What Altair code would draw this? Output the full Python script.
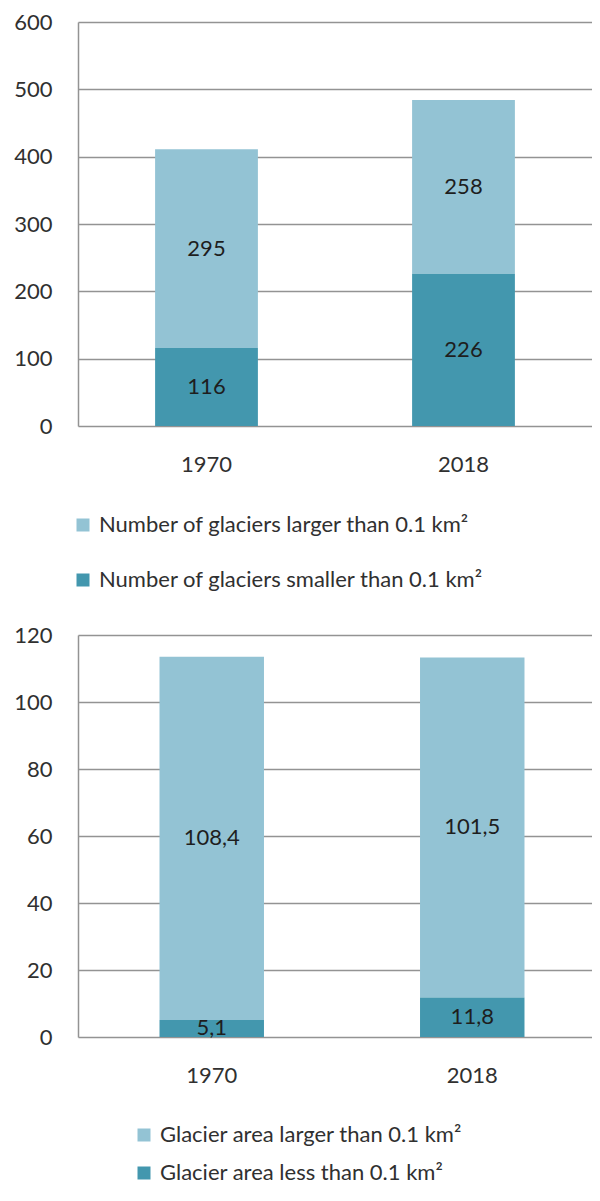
import altair as alt
import pandas as pd

years = ["1970", "2018"]
count_larger = [295, 258]
count_smaller = [116, 226]
area_larger = [108.4, 101.5]
area_smaller = [5.1, 11.8]

count_series = ["Number of glaciers larger than 0.1 km²",
                "Number of glaciers smaller than 0.1 km²"]
area_series = ["Glacier area larger than 0.1 km²",
               "Glacier area less than 0.1 km²"]

count_ticks = [0, 100, 200, 300, 400, 500, 600]
area_ticks = [0, 20, 40, 60, 80, 100, 120]

LIGHT = "#93C3D4"
DARK = "#4397AE"
GRID = "#939393"
TXT = "#303030"
FONT = "Lato"
FS = 22


def make_df(larger, smaller, names):
    rows = []
    for i, yr in enumerate(years):
        rows.append({"year": yr, "series": names[0], "v": larger[i], "ord": 1})
        rows.append({"year": yr, "series": names[1], "v": smaller[i], "ord": 0})
    return pd.DataFrame(rows)


def panel(df, names, ticks, width, height, lx, ly, rowpad, label_expr,
          pin, pout, shift):
    base = alt.Chart(df).transform_stack(
        stack="v", groupby=["year"], as_=["v0", "v1"],
        sort=[alt.SortField("ord", order="ascending")]
    ).transform_calculate(
        mid="(datum.v0 + datum.v1) / 2",
        lab=label_expr,
    )
    xs = alt.Scale(paddingInner=pin, paddingOuter=pout)
    x = alt.X("year:N", title=None, scale=xs,
              axis=alt.Axis(labelAngle=0, ticks=False, domain=False,
                            labelPadding=28, labelFontSize=FS,
                            labelOffset=shift,
                            labelFont=FONT, labelColor=TXT, grid=False))
    y = alt.Y("v1:Q", title=None,
              scale=alt.Scale(domain=[ticks[0], ticks[-1]], nice=False),
              axis=alt.Axis(values=ticks, ticks=False, domain=True,
                            domainColor=GRID, domainWidth=1.5,
                            grid=True, gridColor=GRID, gridWidth=1.5,
                            labelPadding=26, labelFontSize=FS,
                            labelFont=FONT, labelColor=TXT))
    bars = base.mark_bar(xOffset=shift).encode(
        x=x, y=y, y2="v0:Q",
        color=alt.Color("series:N",
                        scale=alt.Scale(domain=names, range=[LIGHT, DARK]),
                        legend=alt.Legend(title=None, orient="none",
                                          legendX=lx, legendY=ly,
                                          symbolType="square", symbolSize=169,
                                          symbolStrokeWidth=0, labelFontSize=FS,
                                          labelFont=FONT, labelColor=TXT,
                                          labelOffset=5, rowPadding=rowpad,
                                          padding=0, labelLimit=0)),
    )
    text = base.mark_text(font=FONT, fontSize=FS, color="#1E1E1E",
                          dx=shift).encode(
        x=alt.X("year:N", scale=xs), y=alt.Y("mid:Q"), text="lab:N")
    return (bars + text).properties(width=width, height=height)


top = panel(make_df(count_larger, count_smaller, count_series), count_series,
            count_ticks, 514, 404, -6, 492, 33, "format(datum.v, 'd')",
            0.6, 0.3, 0)
bottom = panel(make_df(area_larger, area_smaller, area_series), area_series,
               area_ticks, 514, 402, 55, 489, 16,
               "replace(format(datum.v, '.1f'), '.', ',')", 0.599, 0.286, 7)

chart = alt.vconcat(top, bottom, spacing=33).resolve_scale(
    color="independent").properties(
    padding={"left": 5, "top": 3, "right": 0, "bottom": 0}
).configure_view(strokeWidth=0)

chart.save("out.html", embed_options={"renderer": "svg", "actions": False})
